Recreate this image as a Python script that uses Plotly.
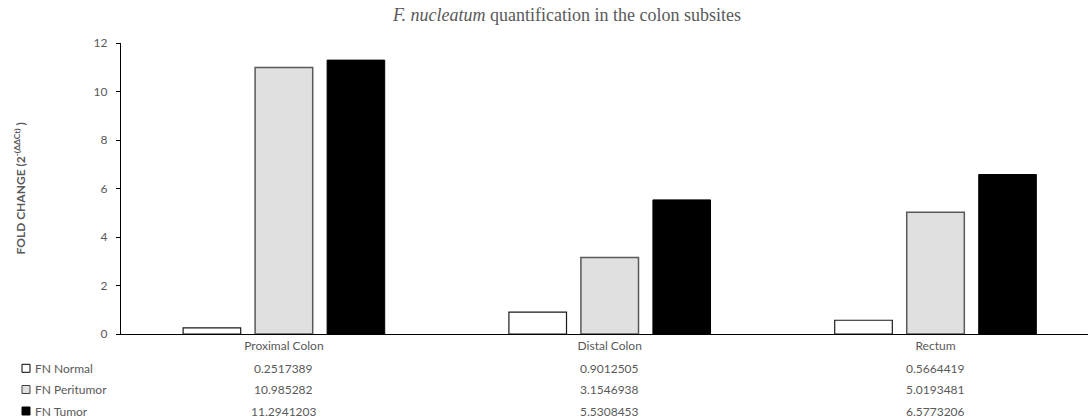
import plotly.graph_objects as go

categories = ["Proximal Colon", "Distal Colon", "Rectum"]
series_names = ["FN Normal", "FN Peritumor", "FN Tumor"]
fn_normal = [0.2517389, 0.9012505, 0.5664419]
fn_peritumor = [10.985282, 3.1546938, 5.0193481]
fn_tumor = [11.2941203, 5.5308453, 6.5773206]
y_ticks = [0, 2, 4, 6, 8, 10, 12]

series_values = [fn_normal, fn_peritumor, fn_tumor]
fills = ["#FFFFFF", "#E0E0E0", "#000000"]
outlines = ["#1a1a1a", "#595959", "#000000"]
outline_w = [1.2, 1.5, 1.0]

TXT = "#595959"
FONT = "Lato, 'Open Sans', sans-serif"

W, H = 1088, 419
ML, MR, MT, MB = 121, 0, 43, 85
plot_bottom_px = H - MB

fig = go.Figure()
for name, vals, fc, lc, lw in zip(series_names, series_values, fills, outlines, outline_w):
    fig.add_trace(go.Bar(
        x=categories, y=vals, name=name,
        marker=dict(color=fc, line=dict(color=lc, width=lw)),
        showlegend=False,
    ))

annotations = []
shapes = []
# data table rows
row_px = [368.3, 389.5, 411.0]
for i, (name, vals, fc, lc) in enumerate(zip(series_names, series_values, fills, outlines)):
    off = -(row_px[i] - plot_bottom_px)
    for cat, v in zip(categories, vals):
        annotations.append(dict(
            x=cat, xref="x", y=0, yref="paper", yanchor="middle", yshift=off,
            text=str(v), showarrow=False, font=dict(family=FONT, size=12, color=TXT),
        ))
    annotations.append(dict(
        x=0, xref="paper", xanchor="left", xshift=33 - ML, y=0, yref="paper",
        yanchor="middle", yshift=off, text=name, showarrow=False,
        font=dict(family=FONT, size=12, color=TXT),
    ))
    shapes.append(dict(
        type="rect", xref="paper", yref="paper", xsizemode="pixel", ysizemode="pixel",
        xanchor=0, yanchor=0, x0=22 - ML, x1=30 - ML, y0=off - 4, y1=off + 4,
        fillcolor=fc, line=dict(color="#000000" if i != 1 else "#404040", width=1),
    ))

# y axis title
annotations.append(dict(
    x=0, xref="paper", xshift=19 - ML, y=0.5, yref="paper",
    text="<b>FOLD CHANGE (2<sup>-(ΔΔCt)</sup> )</b>", textangle=-90, showarrow=False,
    font=dict(family=FONT, size=12, color=TXT), xanchor="center", yanchor="middle",
))

fig.update_layout(
    width=W, height=H,
    margin=dict(l=ML, r=MR, t=MT, b=MB, autoexpand=False),
    paper_bgcolor="white", plot_bgcolor="white",
    barmode="group", bargap=0.337, bargroupgap=0.2,
    title=dict(
        text="<i>F. nucleatum</i> quantification in the colon subsites",
        x=567 / W, xref="container", xanchor="center",
        y=1 - 15 / H, yref="container", yanchor="middle",
        font=dict(family="'Liberation Serif', 'Times New Roman', serif", size=18, color=TXT),
    ),
    xaxis=dict(
        range=[-0.5, 2.468], showline=True, linecolor="#000000", linewidth=1.3,
        ticks="", showgrid=False, zeroline=False,
        tickfont=dict(family=FONT, size=12, color=TXT),
    ),
    yaxis=dict(
        range=[0, 12], tickvals=y_ticks, showline=True, linecolor="#000000", linewidth=1.3,
        ticks="outside", ticklen=4, tickcolor="#000000", showgrid=False, zeroline=False,
        tickfont=dict(family=FONT, size=12, color=TXT), ticklabelstandoff=6,
    ),
    annotations=annotations, shapes=shapes,
)

fig.write_html(
    "out.html",
    config={"displayModeBar": False},
    post_script="document.body.style.margin='0';document.body.style.padding='0';document.body.style.overflow='hidden';",
)
